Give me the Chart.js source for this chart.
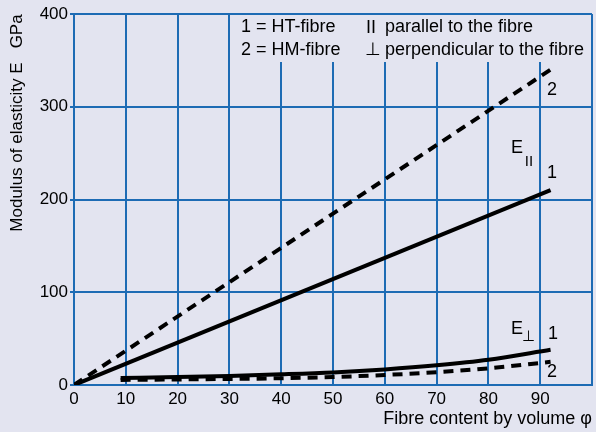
<!DOCTYPE html>
<html>
<head>
<meta charset="utf-8">
<script src="https://cdn.jsdelivr.net/npm/chart.js@4"></script>
<style>
  html, body { margin: 0; padding: 0; background: #e3e4f0; }
  canvas { display: block; }
</style>
</head>
<body>
<canvas id="chart" width="596" height="432"></canvas>
<script>
// Modulus of elasticity vs fibre content - HT / HM fibres, parallel and perpendicular
const parallelX = [0, 92];
const htParallel = [0, 210];
const hmParallel = [0, 340];

const perpX = [9, 20, 30, 40, 50, 60, 70, 80, 92];
const htPerp = [7.5, 8.5, 9.8, 11.5, 13.6, 16.8, 21.2, 27.2, 38];
const hmPerp = [5.5, 6, 6.5, 7.3, 8.6, 10.8, 13.8, 18, 25];

const xTicks = [0, 10, 20, 30, 40, 50, 60, 70, 80, 90];
const yTicks = [0, 100, 200, 300, 400];

const BG = '#e3e4f0';
const GRID = '#1d6bb4';
const FONT = '"Liberation Sans", Arial, sans-serif';

function pts(xs, ys) {
    return xs.map(function (x, i) { return { x: x, y: ys[i] }; });
}

const annotations = {
    id: 'annotations',
    beforeDraw: function (chart) {
        const ctx = chart.ctx;
        ctx.save();
        ctx.fillStyle = BG;
        ctx.fillRect(0, 0, chart.width, chart.height);
        ctx.restore();
    },
    beforeDatasetsDraw: function (chart) {
        const ctx = chart.ctx;
        const xs = chart.scales.x;
        const ys = chart.scales.y;
        // key box covering the grid at the top right
        const left = xs.getPixelForValue(30) + 1;
        const right = xs.getPixelForValue(100) - 1;
        ctx.save();
        ctx.fillStyle = BG;
        ctx.fillRect(left, ys.top + 1, right - left, 47);
        ctx.fillStyle = '#000';
        ctx.font = '18px ' + FONT;
        ctx.textBaseline = 'middle';
        ctx.textAlign = 'left';
        ctx.fillText('1 = HT-fibre', 241, 27);
        ctx.fillText('2 = HM-fibre', 241, 50);
        ctx.fillText('II', 366, 28);
        ctx.fillText('\u22A5', 365, 50);
        ctx.fillText('parallel to the fibre', 385, 27);
        ctx.fillText('perpendicular to the fibre', 385, 50);
        ctx.restore();
    },
    afterDraw: function (chart) {
        const ctx = chart.ctx;
        ctx.save();
        ctx.fillStyle = '#000';
        ctx.textBaseline = 'middle';
        ctx.textAlign = 'center';
        ctx.font = '18px ' + FONT;
        ctx.fillText('2', 552, 90);
        ctx.fillText('1', 552, 173);
        ctx.fillText('1', 553, 334);
        ctx.fillText('2', 552, 372);
        ctx.fillText('E', 517, 148);
        ctx.fillText('E', 517, 329);
        ctx.font = '15px ' + FONT;
        ctx.fillText('II', 529, 162);
        ctx.fillText('\u22A5', 528, 337);

        // axis titles
        ctx.font = '18px ' + FONT;
        ctx.textAlign = 'right';
        ctx.fillText('Fibre content by volume \u03C6', 592, 419);
        ctx.font = '17px ' + FONT;
        ctx.translate(17, 123);
        ctx.rotate(-Math.PI / 2);
        ctx.textAlign = 'center';
        ctx.fillText('Modulus of elasticity E   GPa', 0, 0);
        ctx.restore();
    }
};

const lineStyle = {
    showLine: true,
    borderColor: '#000',
    backgroundColor: '#000',
    borderWidth: 4,
    pointRadius: 0,
    fill: false
};

new Chart(document.getElementById('chart'), {
    type: 'scatter',
    data: {
        datasets: [
            Object.assign({ label: 'HM parallel', data: pts(parallelX, hmParallel), borderDash: [10, 7] }, lineStyle),
            Object.assign({ label: 'HT parallel', data: pts(parallelX, htParallel) }, lineStyle),
            Object.assign({ label: 'HM perpendicular', data: pts(perpX, hmPerp), borderDash: [10, 7], cubicInterpolationMode: 'monotone' }, lineStyle),
            Object.assign({ label: 'HT perpendicular', data: pts(perpX, htPerp), cubicInterpolationMode: 'monotone' }, lineStyle)
        ]
    },
    options: {
        responsive: false,
        animation: false,
        layout: { padding: { top: 14, right: 4, left: 0, bottom: 0 } },
        plugins: {
            legend: { display: false },
            tooltip: { enabled: false }
        },
        scales: {
            x: {
                type: 'linear',
                min: 0,
                max: 100,
                afterBuildTicks: function (scale) {
                    scale.ticks = xTicks.concat([100]).map(function (v) { return { value: v }; });
                },
                afterFit: function (scale) { scale.height = 47; },
                ticks: {
                    color: '#000',
                    font: { family: FONT, size: 17 },
                    padding: 4,
                    maxRotation: 0,
                    callback: function (v) { return xTicks.indexOf(v) >= 0 ? String(v) : ''; }
                },
                grid: { color: GRID, lineWidth: 2, drawTicks: false },
                border: { color: GRID, width: 2 }
            },
            y: {
                type: 'linear',
                min: 0,
                max: 400,
                afterBuildTicks: function (scale) {
                    scale.ticks = yTicks.map(function (v) { return { value: v }; });
                },
                afterFit: function (scale) { scale.width = 74; },
                ticks: {
                    color: '#000',
                    font: { family: FONT, size: 17 },
                    padding: 2
                },
                grid: { color: GRID, lineWidth: 2, tickLength: 4 },
                border: { color: GRID, width: 2 }
            }
        }
    },
    plugins: [annotations]
});
</script>
</body>
</html>
